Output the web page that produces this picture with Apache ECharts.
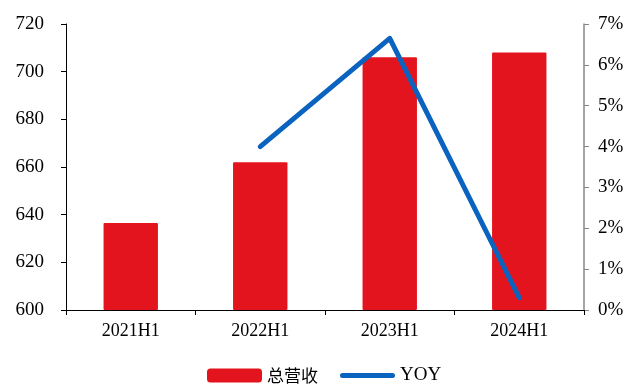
<!DOCTYPE html>
<html>
<head>
<meta charset="utf-8">
<script src="https://cdn.jsdelivr.net/npm/echarts@6/dist/echarts.min.js"></script>
<style>
html,body{margin:0;padding:0;background:#fff;}
#chart{width:630px;height:385px;}
</style>
</head>
<body>
<div id="chart"></div>
<script>
const categories = ['2021H1', '2022H1', '2023H1', '2024H1'];
const revenue = [636.5, 662, 706, 708];
const yoy = [null, 4.0, 6.65, 0.3];
const leftTicks = [600, 620, 640, 660, 680, 700, 720];
const rightTicks = [0, 1, 2, 3, 4, 5, 6, 7];

const serif = '"Liberation Serif", "Times New Roman", serif';
const chart = echarts.init(document.getElementById('chart'));
chart.setOption({
  animation: false,
  backgroundColor: '#ffffff',
  grid: { left: 66, right: 46, top: 24, bottom: 75, containLabel: false },
  legend: {
    top: 366,
    left: 207,
    padding: 0,
    itemWidth: 55,
    itemHeight: 14,
    itemGap: 22,
    textStyle: { fontFamily: '"Noto Sans CJK SC", ' + serif, fontSize: 17, color: '#000' },
    data: [
      { name: '总营收', icon: 'roundRect' },
      { name: 'YOY', icon: 'path://M2.5,0 L52.5,0 A2.5,2.5 0 0 1 52.5,5 L2.5,5 A2.5,2.5 0 0 1 2.5,0 Z',
        textStyle: { fontFamily: serif, fontSize: 19, color: '#000' } }
    ]
  },
  xAxis: {
    type: 'category',
    data: categories,
    axisLine: { lineStyle: { color: '#000', width: 1 } },
    axisTick: { show: true, alignWithLabel: false, length: 5, inside: false, lineStyle: { color: '#000' } },
    axisLabel: { color: '#000', fontFamily: serif, fontSize: 18, margin: 12 }
  },
  yAxis: [
    {
      type: 'value',
      min: leftTicks[0],
      max: leftTicks[leftTicks.length - 1],
      interval: 20,
      splitLine: { show: false },
      axisLine: { show: true, lineStyle: { color: '#000', width: 1 } },
      axisTick: { show: true, length: 5, lineStyle: { color: '#000' } },
      axisLabel: { color: '#000', fontFamily: serif, fontSize: 19, margin: 22 }
    },
    {
      type: 'value',
      min: rightTicks[0],
      max: rightTicks[rightTicks.length - 1],
      interval: 1,
      position: 'right',
      splitLine: { show: false },
      axisLine: { show: true, lineStyle: { color: '#888', width: 1.5 } },
      axisTick: { show: true, length: 5, lineStyle: { color: '#888' } },
      axisLabel: { color: '#000', fontFamily: serif, fontSize: 19, margin: 14, formatter: v => v + '%' }
    }
  ],
  series: [
    {
      name: '总营收',
      type: 'bar',
      yAxisIndex: 0,
      data: revenue,
      barWidth: '42%',
      itemStyle: { color: '#E3141D', borderRadius: 1 }
    },
    {
      name: 'YOY',
      type: 'line',
      yAxisIndex: 1,
      data: yoy,
      symbol: 'none',
      lineStyle: { color: '#0A63BE', width: 5, cap: 'round', join: 'round' },
      itemStyle: { color: '#0A63BE' }
    }
  ]
});
</script>
</body>
</html>
